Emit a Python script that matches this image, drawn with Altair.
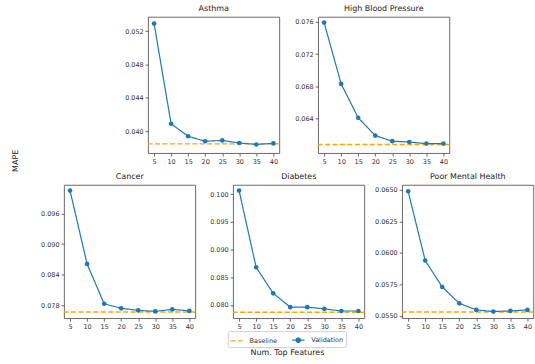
import altair as alt
import pandas as pd

features = [5, 10, 15, 20, 25, 30, 35, 40]
series_names = ["Baseline", "Validation"]

asthma_val = [0.0529, 0.0409, 0.0394, 0.0388, 0.0389, 0.0386, 0.03842, 0.03855]
asthma_base = 0.03849
asthma_ticks = [0.040, 0.044, 0.048, 0.052]

hbp_val = [0.0759, 0.0683, 0.0641, 0.0619, 0.0612, 0.0611, 0.0609, 0.0609]
hbp_base = 0.0608
hbp_ticks = [0.064, 0.068, 0.072, 0.076]

cancer_val = [0.1005, 0.0861, 0.0783, 0.0774, 0.0770, 0.0768, 0.0772, 0.0769]
cancer_base = 0.0767
cancer_ticks = [0.078, 0.084, 0.090, 0.096]

diabetes_val = [0.10065, 0.0868, 0.0821, 0.0796, 0.0796, 0.0793, 0.0789, 0.0789]
diabetes_base = 0.0787
diabetes_ticks = [0.080, 0.085, 0.090, 0.095, 0.100]

pmh_val = [0.0649, 0.0594, 0.0573, 0.0560, 0.05548, 0.05535, 0.0554, 0.05548]
pmh_base = 0.05532
pmh_ticks = [0.0550, 0.0575, 0.0600, 0.0625, 0.0650]

FONT = "DejaVu Sans"
BLUE = "#1f77b4"
ORANGE = "#ffa500"
VAL_PATH = "M-1,0H1M0.34,0A0.34,0.34 0 1 1 -0.34,0A0.34,0.34 0 1 1 0.34,0Z"

legend = alt.Legend(
    title=None, orient="none", legendX=165, legendY=316, direction="horizontal",
    symbolSize=150, symbolStrokeWidth=1.4, labelFontSize=6.5, labelFont=FONT,
    labelColor="#333", columnPadding=12, labelOffset=6, padding=2,
    strokeColor="#d0d0d0", fillColor="white", cornerRadius=2,
)
color_scale = alt.Scale(domain=series_names, range=[ORANGE, BLUE])
dash_scale = alt.Scale(domain=series_names, range=[[5, 2.5], [1, 0]])
shape_scale = alt.Scale(domain=series_names, range=["stroke", VAL_PATH])

color_enc = alt.Color("series:N", scale=color_scale, legend=legend)
dash_enc = alt.StrokeDash("series:N", scale=dash_scale, legend=legend)
shape_enc = alt.Shape("series:N", scale=shape_scale, legend=legend)


def panel(name, vals, base, ticks, fmt, dom, h):
    df = pd.DataFrame({"features": features, "mape": vals, "series": "Validation"})
    bdf = pd.DataFrame({"mape": [base], "series": ["Baseline"]})
    ldf = pd.DataFrame({"series": series_names})
    x = alt.X("features:Q",
              scale=alt.Scale(domain=[3.25, 41.75], nice=False, zero=False),
              axis=alt.Axis(values=features, title=None))
    y = alt.Y("mape:Q",
              scale=alt.Scale(domain=dom, nice=False, zero=False),
              axis=alt.Axis(values=ticks, format=fmt, title=None))
    rule = alt.Chart(bdf).mark_rule(strokeWidth=1.5).encode(
        y=y, color=color_enc, strokeDash=dash_enc)
    line = alt.Chart(df).mark_line(strokeWidth=1.2).encode(
        x=x, y=y, color=color_enc, strokeDash=dash_enc)
    pts = alt.Chart(df).mark_point(filled=True, size=22, opacity=1).encode(
        x=x, y=y, color=color_enc, shape=alt.value("circle"))
    leg = alt.Chart(ldf).mark_point(filled=True, opacity=1).encode(
        color=color_enc, shape=shape_enc).transform_filter("false")
    return alt.layer(rule, line, pts, leg).properties(
        width=132, height=h,
        title=alt.TitleParams(name, fontSize=8, font=FONT, fontWeight="normal",
                              color="#222", offset=4),
    )


asthma = panel("Asthma", asthma_val, asthma_base, asthma_ticks, ".3f", [0.03738, 0.0537], 137)
hbp = panel("High Blood Pressure", hbp_val, hbp_base, hbp_ticks, ".3f", [0.05972, 0.0766], 137)
cancer = panel("Cancer", cancer_val, cancer_base, cancer_ticks, ".3f", [0.07546, 0.1016], 134)
diabetes = panel("Diabetes", diabetes_val, diabetes_base, diabetes_ticks, ".3f", [0.0776, 0.10167], 134)
pmh = panel("Poor Mental Health", pmh_val, pmh_base, pmh_ticks, ".4f", [0.05482, 0.0654], 134)

top = alt.hconcat(asthma, hbp, spacing=12)
bottom = alt.hconcat(cancer, alt.hconcat(diabetes, pmh, spacing=7), spacing=11)
inner = alt.vconcat(
    top, bottom, spacing=7, center=True,
    title=alt.TitleParams("Num. Top Features", orient="bottom", anchor="middle",
                          fontSize=8, font=FONT, fontWeight="normal", color="#222",
                          offset=19),
)
chart = alt.hconcat(
    inner,
    title=alt.TitleParams("MAPE", orient="left", anchor="middle", fontSize=8,
                          font=FONT, fontWeight="normal", color="#222", offset=20,
                          dx=20),
).properties(
    padding={"left": 12, "top": 3, "right": 0, "bottom": 0}
).configure_view(
    stroke="#444", strokeWidth=0.8
).configure_axis(
    grid=False, domain=False, tickColor="#444", tickSize=3, tickWidth=0.8,
    labelFont=FONT, labelFontSize=6.5, labelColor="#333", labelPadding=2,
)

chart.save("out.html", embed_options={"renderer": "svg", "actions": False})
